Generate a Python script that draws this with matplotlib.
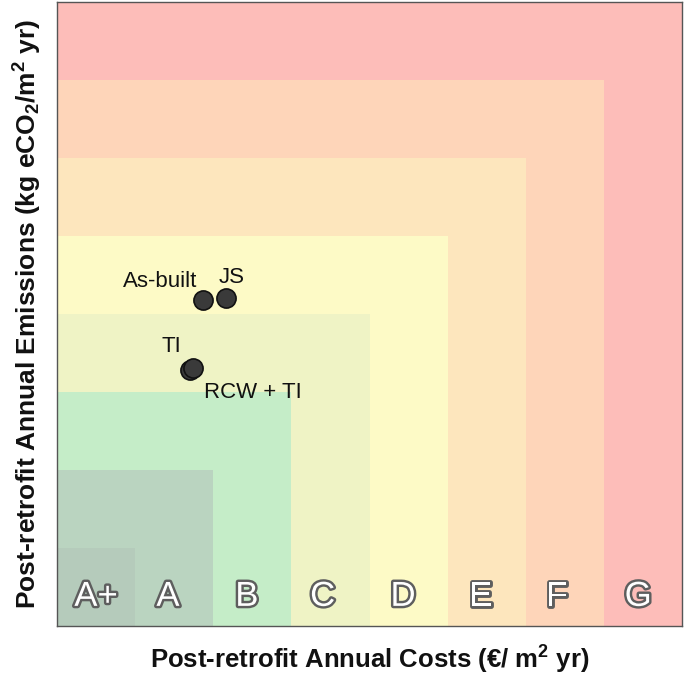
import matplotlib
matplotlib.use("Agg")
import matplotlib.pyplot as plt
import matplotlib.patheffects as pe
from matplotlib.patches import Rectangle

plt.rcParams['font.family'] = ['Liberation Sans', 'DejaVu Sans']
plt.rcParams['mathtext.fontset'] = 'custom'
plt.rcParams['mathtext.rm'] = 'Liberation Sans:bold'
plt.rcParams['mathtext.bf'] = 'Liberation Sans:bold'
plt.rcParams['mathtext.it'] = 'Liberation Sans:bold'

# rating bands (each nested square goes from the origin to its limit)
ratings = ['A+', 'A', 'B', 'C', 'D', 'E', 'F', 'G']
limits = [1, 2, 3, 4, 5, 6, 7, 8]
band_colors = ['#b5cbbb', '#bad4c0', '#c5edc8', '#eff3c5', '#fdfac6',
               '#fde6bd', '#fed5b9', '#fdbdb9']
label_x = [0.50, 1.42, 2.43, 3.40, 4.43, 5.42, 6.40, 7.44]

# retrofit scenarios
names = ['As-built', 'JS', 'TI', 'RCW + TI']
costs = [1.87, 2.16, 1.70, 1.74]
emissions = [4.18, 4.21, 3.28, 3.31]
label_pos = [(1.80, 4.42), (2.24, 4.47), (1.46, 3.58), (1.88, 3.0)]
label_ha = ['right', 'center', 'center', 'left']

fig = plt.figure(figsize=(6.85, 6.78), dpi=100)
ax = fig.add_axes([57 / 685, 52 / 678, 625 / 685, 624 / 678])

for lim, col in zip(limits[::-1], band_colors[::-1]):
    ax.add_patch(Rectangle((0, 0), lim, lim, facecolor=col, edgecolor='none'))

for r, lx in zip(ratings, label_x):
    ax.text(lx, 0.38, r, ha='center', va='center', fontsize=25, color='white',
            path_effects=[pe.withStroke(linewidth=3.5, foreground='#5e5e5e')])

ax.scatter(costs, emissions, s=190, c='#3a3a3a', edgecolors='#111111',
           linewidths=1.2, zorder=5)
for n, (tx, ty), ha in zip(names, label_pos, label_ha):
    ax.text(tx, ty, n, ha=ha, va='center', fontsize=16, color='#111111')

ax.set_xlim(0, 8)
ax.set_ylim(0, 8)
ax.set_xticks([])
ax.set_yticks([])
for s in ax.spines.values():
    s.set_color('#555555')
    s.set_linewidth(1.0)

ax.set_xlabel(r'Post-retrofit Annual Costs (€/ m$^{2}$ yr)', fontsize=18.5,
              fontweight='bold', labelpad=13, color='#111111')
ax.set_ylabel(r'Post-retrofit Annual Emissions (kg eCO$_{2}$/m$^{2}$ yr)',
              fontsize=19, fontweight='bold', labelpad=9, color='#111111')

fig.savefig('out.png', dpi=100)
